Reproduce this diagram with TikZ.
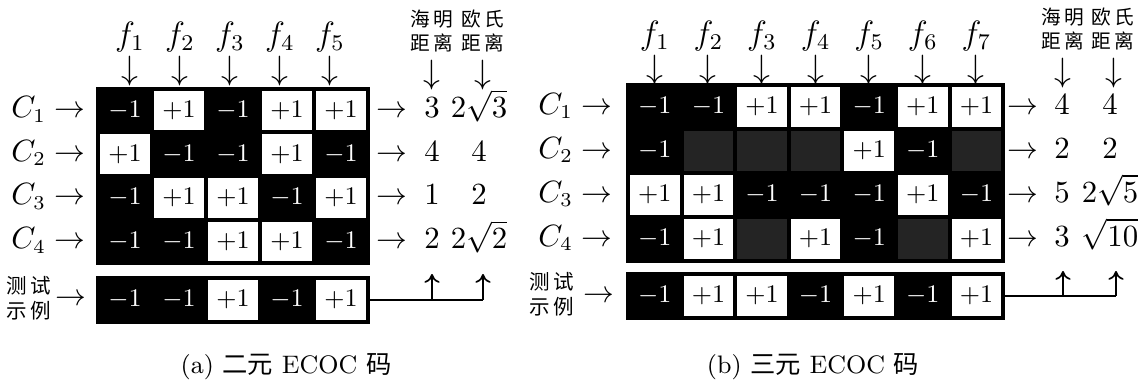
\documentclass[tikz,border=0pt]{standalone}
\usepackage{fontspec}
\newfontfamily\cjk{Noto Sans CJK SC}
\usetikzlibrary{arrows.meta}

\begin{document}
\begin{tikzpicture}[
  x=0.125mm, y=-0.125mm,
  every node/.style={font=\fontsize{10.5}{12}\selectfont, inner sep=0pt},
  cell/.style={draw=black, line width=0.5mm, minimum width=6.72mm, minimum height=5.46mm, font=\fontsize{9.5}{11}\selectfont},
  val p/.style={fill=white, text=black, node contents={$+1$}},
  val n/.style={fill=black, text=white, node contents={$-1$}},
  val z/.style={fill=black!86, node contents={}},
  rowtxt/.style={text height=7.5pt, text depth=2.5pt},
  feat/.style={font=\fontsize{12}{14}\selectfont},
  down/.style={font=\fontsize{13}{15}\selectfont},
  head/.style={font=\cjk\fontsize{7}{8.2}\selectfont, align=center},
  testlab/.style={font=\cjk\fontsize{7.3}{9}\selectfont, align=center},
  caption/.style={font=\fontsize{9}{11}\selectfont},
  wire/.style={line width=0.6pt},
  uparrow/.style={-{Computer Modern Rightarrow[length=1.1mm, width=1.9mm]}, line width=0.6pt}
]
\useasboundingbox (0,0) rectangle (1143,386);

% (a) binary code matrix
\foreach \r/\y/\vals in {1/110.5/{n,p,n,p,p}, 2/154.2/{p,n,n,p,n}, 3/197.9/{n,p,p,n,p}, 4/241.6/{n,n,p,p,n}, t/300/{n,n,p,n,p}}
  \foreach \v [count=\c] in \vals
    \node (a-\r-\c) at ({125+54*(\c-1)},\y) [cell, val \v];
\foreach \c/\x in {1/130, 2/180, 3/230, 4/280, 5/330} {
  \node[feat] (fa-\c) at (\x,37) {$f_\c$};
  \node[down] (da-\c) at (\x,71) {$\downarrow$};
}
\foreach \r/\y/\h/\e in {1/110.5/3/2\sqrt{3}, 2/154.2/4/4, 3/197.9/1/2, 4/241.6/2/2\sqrt{2}} {
  \node[rowtxt, anchor=east] (ca-\r) at (86,\y) {$C_\r \rightarrow$};
  \node[rowtxt] (ra-\r) at (392,\y) {$\rightarrow$};
  \node[rowtxt] (ha-\r) at (432,\y) {$\h$};
  \node[rowtxt] (ea-\r) at (479,\y) {$\e$};
}
\node[head] (hha) at (432,31) {海\,明\\距\,离};
\node[head] (hea) at (483,31) {欧\,氏\\距\,离};
\node[down] (dha) at (432,75) {$\downarrow$};
\node[down] (dea) at (483,75) {$\downarrow$};
\node[testlab] (ta) at (29,298) {测\,试\\示\,例};
\node[rowtxt] (tra) at (71,298) {$\rightarrow$};
\coordinate (ja-1) at (432,300);
\coordinate (ja-2) at (483,300);
\coordinate (ua-1) at (432,274);
\coordinate (ua-2) at (483,274);
\draw[wire] (a-t-5.east) -- (ja-2);
\draw[uparrow] (ja-1) -- (ua-1);
\draw[uparrow] (ja-2) -- (ua-2);
\node[caption] (capa) at (286,367) {(a) {\cjk 二元} ECOC {\cjk 码}};

% (b) ternary code matrix
\foreach \r/\y/\vals in {1/107/{n,n,p,p,n,p,p}, 2/151/{n,z,z,z,p,n,z}, 3/195/{p,p,n,n,n,p,n}, 4/239/{n,p,z,p,n,z,p}, t/296/{n,p,p,n,p,n,p}}
  \foreach \v [count=\c] in \vals
    \node (b-\r-\c) at ({654.8+53.6*(\c-1)},\y) [cell, val \v];
\foreach \c in {1,...,7} {
  \node[feat] (fb-\c) at ({654.8+53.6*(\c-1)},36) {$f_\c$};
  \node[down] (db-\c) at ({654.8+53.6*(\c-1)},70) {$\downarrow$};
}
\foreach \r/\y/\h/\e in {1/107/4/4, 2/151/2/2, 3/195/5/2\sqrt{5}, 4/239/3/\sqrt{10}} {
  \node[rowtxt, anchor=east] (cb-\r) at (613,\y) {$C_\r \rightarrow$};
  \node[rowtxt] (rb-\r) at (1023,\y) {$\rightarrow$};
  \node[rowtxt] (hb-\r) at (1062,\y) {$\h$};
  \node[rowtxt] (eb-\r) at (1110,\y) {$\e$};
}
\node[head] (hhb) at (1063,29) {海\,明\\距\,离};
\node[head] (heb) at (1113,29) {欧\,氏\\距\,离};
\node[down] (dhb) at (1063,73) {$\downarrow$};
\node[down] (deb) at (1114,73) {$\downarrow$};
\node[testlab] (tb) at (552,294) {测\,试\\示\,例};
\node[rowtxt] (trb) at (599,295) {$\rightarrow$};
\coordinate (jb-1) at (1063,296);
\coordinate (jb-2) at (1116,296);
\coordinate (ub-1) at (1063,271);
\coordinate (ub-2) at (1116,271);
\draw[wire] (b-t-7.east) -- (jb-2);
\draw[uparrow] (jb-1) -- (ub-1);
\draw[uparrow] (jb-2) -- (ub-2);
\node[caption] (capb) at (813,367) {(b) {\cjk 三元} ECOC {\cjk 码}};
\end{tikzpicture}
\end{document}
